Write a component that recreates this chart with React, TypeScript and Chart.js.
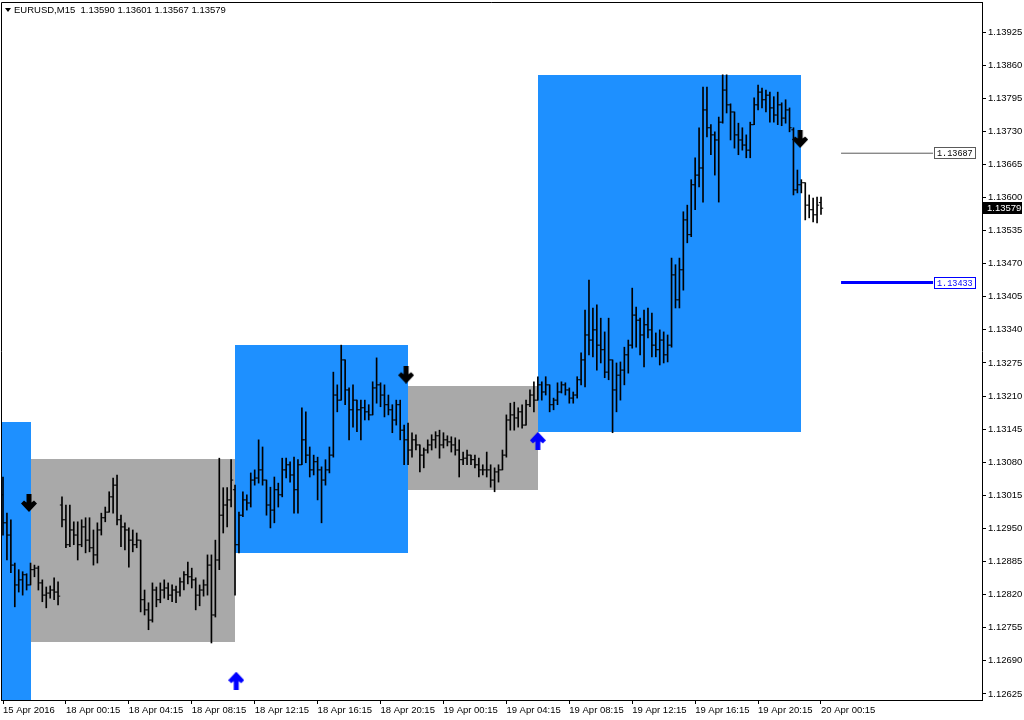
import React, { useEffect, useRef } from "react";
import { Chart, registerables } from "chart.js";

Chart.register(...registerables);

// ---- EURUSD M15 bars (index 0 = 15 Apr 2016, index 208 = 20 Apr 00:15) ----
const OPEN = [
  1.13016, 1.12961, 1.12937, 1.12878, 1.12839, 1.12849, 1.12859, 1.12839, 1.12869, 1.12872,
  1.12843, 1.12819, 1.12823, 1.12829, 1.12825, 1.12996, 1.12967, 1.12918, 1.12947, 1.12937,
  1.12918, 1.12953, 1.12927, 1.12912, 1.12898, 1.12947, 1.12971, 1.12982, 1.13012, 1.13035,
  1.12967, 1.12953, 1.12947, 1.12927, 1.12918, 1.12927, 1.12810, 1.12790, 1.12770, 1.12829,
  1.12810, 1.12829, 1.12833, 1.12819, 1.12829, 1.12825, 1.12845, 1.12859, 1.12855, 1.12849,
  1.12819, 1.12829, 1.12839, 1.12878, 1.12780, 1.12888, 1.12976, 1.12996, 1.13006, 1.13026,
  1.12918, 1.12976, 1.13006, 1.13000, 1.13045, 1.13049, 1.13065, 1.13045, 1.12996, 1.12986,
  1.13026, 1.13016, 1.13065, 1.13075, 1.13055, 1.13026, 1.13075, 1.13124, 1.13094, 1.13065,
  1.13081, 1.13065, 1.13045, 1.13065, 1.13094, 1.13212, 1.13202, 1.13281, 1.13222, 1.13183,
  1.13202, 1.13183, 1.13187, 1.13179, 1.13173, 1.13226, 1.13232, 1.13212, 1.13193, 1.13183,
  1.13163, 1.13193, 1.13143, 1.13124, 1.13104, 1.13124, 1.13114, 1.13094, 1.13104, 1.13114,
  1.13124, 1.13132, 1.13114, 1.13124, 1.13120, 1.13114, 1.13104, 1.13085, 1.13088, 1.13094,
  1.13085, 1.13075, 1.13065, 1.13065, 1.13065, 1.13045, 1.13061, 1.13065, 1.13094, 1.13163,
  1.13173, 1.13167, 1.13179, 1.13153, 1.13193, 1.13212, 1.13202, 1.13232, 1.13218, 1.13232,
  1.13193, 1.13202, 1.13218, 1.13232, 1.13222, 1.13206, 1.13212, 1.13242, 1.13281, 1.13330,
  1.13320, 1.13340, 1.13310, 1.13301, 1.13257, 1.13281, 1.13222, 1.13251, 1.13261, 1.13291,
  1.13310, 1.13369, 1.13359, 1.13330, 1.13350, 1.13340, 1.13310, 1.13301, 1.13320, 1.13291,
  1.13310, 1.13448, 1.13399, 1.13458, 1.13556, 1.13527, 1.13625, 1.13644, 1.13658, 1.13772,
  1.13737, 1.13723, 1.13713, 1.13748, 1.13811, 1.13782, 1.13768, 1.13723, 1.13713, 1.13703,
  1.13693, 1.13743, 1.13782, 1.13807, 1.13792, 1.13801, 1.13776, 1.13762, 1.13782, 1.13756,
  1.13772, 1.13733, 1.13615, 1.13625, 1.13629, 1.13585, 1.13576, 1.13566, 1.13590,
];

const HIGH = [
  1.13051, 1.12980, 1.12967, 1.12882, 1.12869, 1.12865, 1.12861, 1.12882, 1.12878, 1.12876,
  1.12849, 1.12835, 1.12837, 1.12853, 1.12845, 1.13012, 1.12996, 1.12996, 1.12963, 1.12963,
  1.12967, 1.12971, 1.12971, 1.12947, 1.12961, 1.12980, 1.12992, 1.13022, 1.13049, 1.13055,
  1.12976, 1.12961, 1.12951, 1.12947, 1.12941, 1.12927, 1.12829, 1.12804, 1.12843, 1.12835,
  1.12843, 1.12849, 1.12843, 1.12839, 1.12837, 1.12853, 1.12865, 1.12884, 1.12872, 1.12853,
  1.12839, 1.12849, 1.12898, 1.12898, 1.12927, 1.13088, 1.13030, 1.13030, 1.13085, 1.13035,
  1.12982, 1.13022, 1.13016, 1.13059, 1.13065, 1.13124, 1.13110, 1.13045, 1.13031, 1.13051,
  1.13039, 1.13088, 1.13088, 1.13081, 1.13090, 1.13085, 1.13187, 1.13179, 1.13110, 1.13094,
  1.13090, 1.13071, 1.13085, 1.13110, 1.13257, 1.13232, 1.13310, 1.13281, 1.13226, 1.13232,
  1.13202, 1.13202, 1.13202, 1.13193, 1.13238, 1.13285, 1.13236, 1.13232, 1.13212, 1.13193,
  1.13202, 1.13202, 1.13153, 1.13157, 1.13138, 1.13134, 1.13114, 1.13108, 1.13124, 1.13134,
  1.13140, 1.13143, 1.13138, 1.13132, 1.13130, 1.13128, 1.13124, 1.13100, 1.13104, 1.13094,
  1.13094, 1.13088, 1.13075, 1.13100, 1.13075, 1.13069, 1.13075, 1.13104, 1.13173, 1.13196,
  1.13198, 1.13187, 1.13193, 1.13202, 1.13222, 1.13238, 1.13248, 1.13238, 1.13248, 1.13232,
  1.13206, 1.13236, 1.13238, 1.13236, 1.13226, 1.13218, 1.13248, 1.13295, 1.13379, 1.13438,
  1.13383, 1.13389, 1.13363, 1.13336, 1.13363, 1.13281, 1.13275, 1.13277, 1.13306, 1.13320,
  1.13422, 1.13385, 1.13363, 1.13379, 1.13383, 1.13373, 1.13334, 1.13340, 1.13336, 1.13330,
  1.13481, 1.13468, 1.13481, 1.13572, 1.13585, 1.13635, 1.13678, 1.13737, 1.13817, 1.13817,
  1.13743, 1.13729, 1.13758, 1.13841, 1.13841, 1.13784, 1.13768, 1.13746, 1.13737, 1.13723,
  1.13748, 1.13796, 1.13821, 1.13815, 1.13811, 1.13807, 1.13798, 1.13807, 1.13786, 1.13792,
  1.13776, 1.13737, 1.13654, 1.13635, 1.13629, 1.13605, 1.13599, 1.13601, 1.13601,
];

const LOW = [
  1.12937, 1.12888, 1.12863, 1.12796, 1.12825, 1.12819, 1.12829, 1.12839, 1.12855, 1.12829,
  1.12806, 1.12794, 1.12813, 1.12810, 1.12800, 1.12953, 1.12912, 1.12914, 1.12918, 1.12888,
  1.12914, 1.12902, 1.12904, 1.12878, 1.12882, 1.12937, 1.12963, 1.12982, 1.12980, 1.12957,
  1.12914, 1.12908, 1.12874, 1.12904, 1.12912, 1.12786, 1.12780, 1.12751, 1.12766, 1.12796,
  1.12804, 1.12813, 1.12810, 1.12806, 1.12804, 1.12817, 1.12829, 1.12841, 1.12833, 1.12790,
  1.12798, 1.12817, 1.12819, 1.12725, 1.12776, 1.12869, 1.12941, 1.12953, 1.12992, 1.12819,
  1.12902, 1.12973, 1.12986, 1.12992, 1.13035, 1.13039, 1.13035, 1.12976, 1.12951, 1.12961,
  1.12992, 1.13012, 1.13049, 1.13041, 1.12980, 1.12980, 1.13075, 1.13079, 1.13051, 1.13055,
  1.13006, 1.12961, 1.13035, 1.13059, 1.13090, 1.13179, 1.13202, 1.13193, 1.13124, 1.13149,
  1.13140, 1.13124, 1.13163, 1.13163, 1.13173, 1.13196, 1.13189, 1.13169, 1.13173, 1.13138,
  1.13153, 1.13124, 1.13075, 1.13075, 1.13090, 1.13104, 1.13061, 1.13069, 1.13098, 1.13104,
  1.13108, 1.13088, 1.13108, 1.13112, 1.13100, 1.13094, 1.13051, 1.13075, 1.13075, 1.13075,
  1.13069, 1.13051, 1.13055, 1.13051, 1.13031, 1.13022, 1.13041, 1.13065, 1.13090, 1.13143,
  1.13143, 1.13149, 1.13147, 1.13153, 1.13189, 1.13179, 1.13202, 1.13202, 1.13212, 1.13179,
  1.13183, 1.13193, 1.13216, 1.13212, 1.13196, 1.13196, 1.13206, 1.13232, 1.13228, 1.13291,
  1.13287, 1.13261, 1.13275, 1.13246, 1.13242, 1.13138, 1.13179, 1.13202, 1.13232, 1.13255,
  1.13304, 1.13306, 1.13291, 1.13267, 1.13324, 1.13287, 1.13287, 1.13271, 1.13275, 1.13277,
  1.13306, 1.13383, 1.13383, 1.13418, 1.13511, 1.13523, 1.13576, 1.13621, 1.13591, 1.13719,
  1.13684, 1.13644, 1.13591, 1.13746, 1.13766, 1.13713, 1.13697, 1.13684, 1.13693, 1.13678,
  1.13678, 1.13743, 1.13772, 1.13776, 1.13768, 1.13748, 1.13748, 1.13743, 1.13741, 1.13746,
  1.13729, 1.13605, 1.13609, 1.13609, 1.13556, 1.13560, 1.13552, 1.13550, 1.13567,
];

const CLOSE = [
  1.12961, 1.12937, 1.12878, 1.12839, 1.12849, 1.12859, 1.12839, 1.12869, 1.12872, 1.12843,
  1.12819, 1.12823, 1.12829, 1.12825, 1.12817, 1.12967, 1.12918, 1.12947, 1.12937, 1.12918,
  1.12953, 1.12927, 1.12912, 1.12898, 1.12947, 1.12971, 1.12982, 1.13012, 1.13035, 1.12967,
  1.12953, 1.12947, 1.12927, 1.12918, 1.12927, 1.12810, 1.12790, 1.12770, 1.12829, 1.12810,
  1.12829, 1.12833, 1.12819, 1.12829, 1.12825, 1.12845, 1.12859, 1.12855, 1.12849, 1.12819,
  1.12829, 1.12839, 1.12878, 1.12780, 1.12888, 1.12976, 1.12996, 1.13006, 1.13045, 1.12918,
  1.12976, 1.13006, 1.13000, 1.13045, 1.13049, 1.13065, 1.13045, 1.12996, 1.12986, 1.13026,
  1.13016, 1.13065, 1.13075, 1.13055, 1.13026, 1.13075, 1.13124, 1.13094, 1.13065, 1.13081,
  1.13065, 1.13045, 1.13065, 1.13094, 1.13212, 1.13202, 1.13281, 1.13222, 1.13183, 1.13202,
  1.13183, 1.13187, 1.13179, 1.13173, 1.13226, 1.13232, 1.13212, 1.13193, 1.13183, 1.13163,
  1.13193, 1.13143, 1.13124, 1.13104, 1.13124, 1.13114, 1.13094, 1.13104, 1.13114, 1.13124,
  1.13132, 1.13114, 1.13124, 1.13120, 1.13114, 1.13104, 1.13085, 1.13088, 1.13094, 1.13085,
  1.13075, 1.13065, 1.13065, 1.13065, 1.13045, 1.13061, 1.13065, 1.13094, 1.13163, 1.13173,
  1.13167, 1.13179, 1.13153, 1.13193, 1.13212, 1.13202, 1.13232, 1.13218, 1.13232, 1.13193,
  1.13202, 1.13218, 1.13232, 1.13222, 1.13206, 1.13212, 1.13242, 1.13281, 1.13330, 1.13320,
  1.13340, 1.13310, 1.13301, 1.13257, 1.13281, 1.13222, 1.13251, 1.13261, 1.13291, 1.13310,
  1.13369, 1.13359, 1.13330, 1.13350, 1.13340, 1.13310, 1.13301, 1.13320, 1.13291, 1.13310,
  1.13448, 1.13399, 1.13458, 1.13556, 1.13527, 1.13625, 1.13644, 1.13658, 1.13772, 1.13737,
  1.13723, 1.13713, 1.13748, 1.13811, 1.13782, 1.13768, 1.13723, 1.13713, 1.13703, 1.13693,
  1.13743, 1.13782, 1.13807, 1.13792, 1.13801, 1.13776, 1.13762, 1.13782, 1.13756, 1.13772,
  1.13737, 1.13615, 1.13625, 1.13629, 1.13585, 1.13576, 1.13566, 1.13585, 1.13579,
];

// ---- axes ----
const X_TICK_BARS = [0, 16, 32, 48, 64, 80, 96, 112, 128, 144, 160, 176, 192, 208];
const X_TICK_LABELS = [
  "15 Apr 2016", "18 Apr 00:15", "18 Apr 04:15", "18 Apr 08:15", "18 Apr 12:15",
  "18 Apr 16:15", "18 Apr 20:15", "19 Apr 00:15", "19 Apr 04:15", "19 Apr 08:15",
  "19 Apr 12:15", "19 Apr 16:15", "19 Apr 20:15", "20 Apr 00:15",
];
const Y_TICKS = [
  1.12625, 1.1269, 1.12755, 1.1282, 1.12885, 1.1295, 1.13015, 1.1308, 1.13145, 1.1321, 1.13275,
  1.1334, 1.13405, 1.1347, 1.13535, 1.136, 1.13665, 1.1373, 1.13795, 1.1386, 1.13925,
];
const SYMBOL = "EURUSD,M15";

// ---- range boxes (bar index from/to, price high/low) ----
const BOX_FROM = [-1, 7, 59, 103, 136];
const BOX_TO = [7, 59, 103, 136, 203];
const BOX_HIGH = [1.13159, 1.13087, 1.1331, 1.1323, 1.13841];
const BOX_LOW = [1.125, 1.12727, 1.12902, 1.13026, 1.1314];
const BOX_COLORS = ["#1e90ff", "#a9a9a9", "#1e90ff", "#a9a9a9", "#1e90ff"];

// ---- signal arrows ----
const SELL_BARS = [6.6, 102.5, 202.7];
const SELL_PRICES = [1.13, 1.13252, 1.13715];
const BUY_BARS = [59.3, 136];
const BUY_PRICES = [1.12651, 1.13122];

// ---- projected levels ----
const LEVELS = [1.13687, 1.13433];
const LEVEL_COLORS = ["#5a5a5a", "#0000ff"];
const LEVEL_WIDTHS = [1, 3];
const LEVEL_FROM = 213.1;
const LEVEL_TO = 236.5;

const FONT = '"Liberation Sans", Arial, sans-serif';

function makeArrow(color: string, up: boolean): HTMLCanvasElement {
  const c = document.createElement("canvas");
  c.width = 16;
  c.height = 18;
  const g = c.getContext("2d") as CanvasRenderingContext2D;
  const pts = [
    [5.5, 0], [10.5, 0], [10.5, 8.5], [13, 6.5], [16, 9.5], [8, 18],
    [0, 9.5], [3, 6.5], [5.5, 8.5],
  ];
  g.fillStyle = color;
  g.beginPath();
  pts.forEach(([px, py], i) => {
    const yy = up ? 18 - py : py;
    if (i === 0) g.moveTo(px, yy);
    else g.lineTo(px, yy);
  });
  g.closePath();
  g.fill();
  return c;
}

const noPad = (s: any) => {
  s.paddingLeft = 0;
  s.paddingRight = 0;
  s.paddingTop = 0;
  s.paddingBottom = 0;
};

export default function App() {
  const ref = useRef<HTMLCanvasElement>(null);

  useEffect(() => {
    const canvas = ref.current as HTMLCanvasElement;
    const sellImg = makeArrow("#000000", false);
    const buyImg = makeArrow("#0000ff", true);
    const last = CLOSE.length - 1;
    const idx = CLOSE.map((_, i) => i);

    const overlay = {
      id: "mtOverlay",
      beforeDatasetsDraw(chart: any) {
        const { ctx, chartArea: a, scales } = chart;
        const xs = scales.x;
        const ys = scales.y;
        ctx.save();
        ctx.beginPath();
        ctx.rect(a.left, a.top, a.right - a.left, a.bottom - a.top);
        ctx.clip();
        for (let k = 0; k < BOX_FROM.length; k++) {
          const x1 = Math.round(xs.getPixelForValue(BOX_FROM[k]));
          const x2 = Math.round(xs.getPixelForValue(BOX_TO[k]));
          const y1 = Math.round(ys.getPixelForValue(BOX_HIGH[k]));
          const y2 = Math.round(ys.getPixelForValue(BOX_LOW[k]));
          ctx.fillStyle = BOX_COLORS[k];
          ctx.fillRect(x1, y1, x2 - x1, y2 - y1);
        }
        ctx.restore();
      },
      afterDraw(chart: any) {
        const { ctx, chartArea: a, scales } = chart;
        const xs = scales.x;
        const ys = scales.y;
        ctx.save();
        // chart frame (left / top)
        ctx.strokeStyle = "#000";
        ctx.lineWidth = 1;
        ctx.beginPath();
        ctx.moveTo(a.left + 0.5, a.bottom);
        ctx.lineTo(a.left + 0.5, a.top + 0.5);
        ctx.lineTo(a.right, a.top + 0.5);
        ctx.stroke();

        // title
        ctx.fillStyle = "#000";
        ctx.beginPath();
        ctx.moveTo(5, 8);
        ctx.lineTo(11, 8);
        ctx.lineTo(8, 12);
        ctx.closePath();
        ctx.fill();
        ctx.font = `9.5px ${FONT}`;
        ctx.textBaseline = "middle";
        ctx.textAlign = "left";
        ctx.fillText(
          `${SYMBOL}  ${OPEN[last].toFixed(5)} ${HIGH[last].toFixed(5)} ${LOW[last].toFixed(5)} ${CLOSE[last].toFixed(5)}`,
          14,
          10.5
        );

        // level labels
        ctx.font = `8.5px "Liberation Mono", "DejaVu Sans Mono", monospace`;
        for (let k = 0; k < LEVELS.length; k++) {
          const yy = Math.round(ys.getPixelForValue(LEVELS[k]));
          const bx = Math.round(xs.getPixelForValue(LEVEL_TO)) + 1;
          ctx.fillStyle = "#fff";
          ctx.fillRect(bx, yy - 5, 41, 11);
          ctx.strokeStyle = LEVEL_COLORS[k];
          ctx.lineWidth = 1;
          ctx.strokeRect(bx + 0.5, yy - 5.5, 41, 11);
          ctx.fillStyle = LEVEL_COLORS[k] === "#0000ff" ? "#0000ff" : "#000";
          ctx.fillText(LEVELS[k].toFixed(5), bx + 3, yy + 0.5);
        }

        // current price marker on the axis
        const py = Math.round(ys.getPixelForValue(CLOSE[last]));
        ctx.fillStyle = "#000";
        ctx.fillRect(a.right + 1, py - 6, 39, 12);
        ctx.fillStyle = "#fff";
        ctx.font = `9.5px ${FONT}`;
        ctx.fillText(CLOSE[last].toFixed(5), a.right + 5, py + 0.5);
        ctx.restore();
      },
    };

    const chart = new Chart(canvas, {
      type: "bar",
      data: {
        datasets: [
          {
            type: "scatter",
            data: SELL_BARS.map((b, k) => ({ x: b, y: SELL_PRICES[k] })),
            pointStyle: sellImg as any,
            pointRadius: 8,
            order: 0,
          } as any,
          {
            type: "scatter",
            data: BUY_BARS.map((b, k) => ({ x: b, y: BUY_PRICES[k] })),
            pointStyle: buyImg as any,
            pointRadius: 8,
            order: 0,
          } as any,
          ...LEVELS.map((lv, k) => ({
            type: "line",
            data: [
              { x: LEVEL_FROM, y: lv },
              { x: LEVEL_TO, y: lv },
            ],
            borderColor: LEVEL_COLORS[k],
            borderWidth: LEVEL_WIDTHS[k],
            pointRadius: 0,
            order: 1,
          })) as any,
          {
            type: "scatter",
            data: idx.map((i) => ({ x: i - 0.27, y: OPEN[i] })),
            pointStyle: "line",
            pointRadius: 1.1,
            borderColor: "#000",
            borderWidth: 1,
            order: 2,
          } as any,
          {
            type: "scatter",
            data: idx.map((i) => ({ x: i + 0.27, y: CLOSE[i] })),
            pointStyle: "line",
            pointRadius: 1.1,
            borderColor: "#000",
            borderWidth: 1,
            order: 2,
          } as any,
          {
            type: "bar",
            data: idx.map((i) => ({ x: i, y: [LOW[i], HIGH[i]] })),
            backgroundColor: "#000",
            borderWidth: 0,
            barThickness: 1,
            grouped: false,
            order: 3,
          } as any,
        ],
      },
      options: {
        responsive: false,
        devicePixelRatio: 1,
        animation: false,
        events: [],
        layout: { autoPadding: false, padding: { left: 1, top: 2, right: 0, bottom: 0 } },
        plugins: {
          legend: { display: false },
          tooltip: { enabled: false },
          title: { display: false },
        },
        scales: {
          x: {
            type: "linear",
            position: "bottom",
            min: -0.5086,
            max: 248.94,
            offset: false,
            afterBuildTicks: (s: any) => {
              s.ticks = X_TICK_BARS.map((v) => ({ value: v }));
            },
            afterFit: (s: any) => {
              s.height = 20;
              noPad(s);
            },
            ticks: {
              autoSkip: false,
              maxRotation: 0,
              minRotation: 0,
              align: "start",
              padding: 1,
              color: "#000",
              font: { family: FONT, size: 9.5 },
              callback: (_v: any, i: number) => X_TICK_LABELS[i],
            },
            grid: {
              offset: false,
              drawOnChartArea: false,
              drawTicks: true,
              tickLength: 4,
              color: "#000",
            },
            border: { display: true, color: "#000" },
          },
          y: {
            type: "linear",
            position: "right",
            min: 1.12613,
            max: 1.13984,
            afterBuildTicks: (s: any) => {
              s.ticks = Y_TICKS.map((v) => ({ value: v }));
            },
            afterFit: (s: any) => {
              s.width = 42;
              noPad(s);
            },
            ticks: {
              padding: 2,
              color: "#000",
              font: { family: FONT, size: 9.5 },
              callback: (v: any) => Number(v).toFixed(5),
            },
            grid: {
              drawOnChartArea: false,
              drawTicks: true,
              tickLength: 4,
              color: "#000",
            },
            border: { display: true, color: "#000" },
          },
        },
      } as any,
      plugins: [overlay],
    });

    return () => chart.destroy();
  }, []);

  return (
    <div
      style={{
        position: "fixed",
        left: 0,
        top: 0,
        width: 1024,
        height: 720,
        background: "#fff",
      }}
    >
      <canvas ref={ref} width={1024} height={720} style={{ display: "block", width: 1024, height: 720 }} />
    </div>
  );
}
